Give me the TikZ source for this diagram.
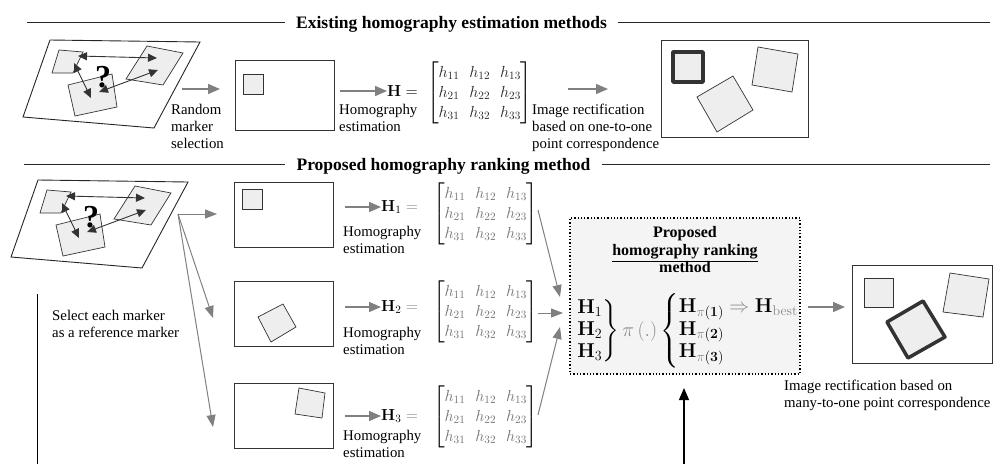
\RequirePackage{fix-cm}
\documentclass[tikz,border=0pt]{standalone}
\usepackage[no-math]{fontspec}
\setmainfont{Liberation Serif}
\usepackage{amsmath}
\usetikzlibrary{arrows.meta}
\definecolor{garr}{HTML}{808080}
\definecolor{dk}{HTML}{333333}
\definecolor{qfill}{HTML}{EEEEEE}
\definecolor{boxfill}{HTML}{F4F4F4}
\definecolor{mgray}{HTML}{8A8A8A}
\newcommand\Hmat[1]{\begin{bmatrix}\textcolor{#1}{h_{11}}&\textcolor{#1}{h_{12}}&\textcolor{#1}{h_{13}}\\ \textcolor{#1}{h_{21}}&\textcolor{#1}{h_{22}}&\textcolor{#1}{h_{23}}\\ \textcolor{#1}{h_{31}}&\textcolor{#1}{h_{32}}&\textcolor{#1}{h_{33}}\end{bmatrix}}
\tikzset{
  garrow/.style={draw=garr, line width=1.5pt, -{Triangle[length=12pt,width=10pt]}},
  garrowthin/.style={draw=garr, line width=1pt, -{Triangle[length=12pt,width=9pt]}},
  barrow/.style={draw=black, line width=1.2pt, -{Triangle[length=12pt,width=10pt]}},
  darrow/.style={draw=dk, line width=0.9pt, {Triangle[length=9pt,width=8pt]}-{Triangle[length=9pt,width=8pt]}},
  quad/.style={draw=dk, fill=qfill, line width=0.7pt},
  thickquad/.style={draw=dk, fill=qfill, line width=3.5pt, line join=round},
  plane/.style={draw=black!85, line width=0.9pt},
  imgbox/.style={draw=dk, line width=1pt},
  rule/.style={draw=black!85, line width=1pt},
  lbl/.style={font=\fontsize{14.8}{17}\selectfont, align=left, inner sep=0pt, anchor=north west},
  ttl/.style={font=\fontsize{17.5}{21}\selectfont\bfseries, inner ysep=0pt, inner xsep=11pt, anchor=base},
  mth/.style={font=\fontsize{16}{20}\selectfont, inner sep=0pt, anchor=west},
  qmark/.style={font=\fontsize{32}{32}\selectfont\bfseries, inner sep=0pt},
  rankbox/.style={draw=black, dotted, line width=1.3pt, fill=boxfill, minimum width=230pt, minimum height=156pt, inner sep=0pt},
  boxttl/.style={font=\fontsize{16}{19}\selectfont\bfseries, inner sep=0pt, anchor=base},
}
\newcommand\MarkerScene[1]{%
  \draw[plane] (50,40) -- (200,42) -- (154,128) -- (23,117) -- cycle;
  \draw[quad] (59,50) -- (83,52) -- (73,73) -- (52,73) -- cycle;
  \draw[quad] (147,46) -- (183,53) -- (163,85) -- (126,79) -- cycle;
  \draw[quad] (68,85) -- (112,74) -- (117,107) -- (75,116) -- cycle;
  \node[qmark] (#1q) at (103,77) {?};
  \coordinate (#1a1) at (78,56); \coordinate (#1a2) at (157,58);
  \coordinate (#1b1) at (74,63); \coordinate (#1b2) at (91,98);
  \coordinate (#1c1) at (99,92); \coordinate (#1c2) at (158,70);
  \draw[darrow] (#1a1) -- (#1a2);
  \draw[darrow] (#1b1) -- (#1b2);
  \draw[darrow] (#1c1) -- (#1c2);
}
\begin{document}
\begin{tikzpicture}[x=1pt,y=-1pt]
\useasboundingbox (0,0) rectangle (994,464);

% ---------- titles ----------
\node[ttl] (T1) at (451.5,28) {Existing homography estimation methods};
\coordinate (T1a) at (27,22); \coordinate (T1b) at (990,22);
\draw[rule] (T1a) -- (T1.west |- T1a);
\draw[rule] (T1.east |- T1b) -- (T1b);

\node[ttl] (T2) at (443.5,170) {Proposed homography ranking method};
\coordinate (T2a) at (24,164); \coordinate (T2b) at (990,164);
\draw[rule] (T2a) -- (T2.west |- T2a);
\draw[rule] (T2.east |- T2b) -- (T2b);

% ---------- top row ----------
\begin{scope}
  \MarkerScene{up}
\end{scope}
\coordinate (ua0) at (182,89); \coordinate (ua1) at (220,89);
\draw[garrow] (ua0) -- (ua1);
\node[lbl] (rms) at (171,104) {Random\\marker\\selection};

\node[imgbox, minimum width=99pt, minimum height=70pt, inner sep=0pt] (img0) at (284.5,95) {};
\draw[quad] (243,74) rectangle (263,94);

\coordinate (ub0) at (340,91);
\node[mth] (H0) at (387,91) {$\mathbf{H}=$};
\draw[garrow] (ub0) -- (H0.west);
\node[mth] (M0) at (427,93) {$\Hmat{black!85}$};
\node[lbl] (he0) at (339,104) {Homography\\estimation};

\coordinate (uc0) at (568,89); \coordinate (uc1) at (608,89);
\draw[garrow] (uc0) -- (uc1);
\node[lbl] (ir0) at (532,104) {Image rectification\\based on one-to-one\\point correspondence};

\node[imgbox, minimum width=147pt, minimum height=97pt, inner sep=0pt] (res0) at (734.5,88.5) {};
\draw[thickquad] (673,52) rectangle (703,82);
\draw[quad] (697,97) -- (733,76) -- (753,110) -- (717,132) -- cycle;
\draw[quad] (758,47) -- (798,54) -- (792,92) -- (752,85) -- cycle;

% ---------- bottom section ----------
\begin{scope}[shift={(-12,140)}]
  \MarkerScene{lo}
\end{scope}

\coordinate (split) at (178,214);
\coordinate (s1) at (217,214);
\coordinate (s2) at (213,318);
\coordinate (s3) at (213,427);
\draw[garrowthin] (split) -- (s1);
\draw[garrowthin] (split) -- (s2);
\draw[garrowthin] (split) -- (s3);

\coordinate (vl0) at (37,294); \coordinate (vl1) at (37,464);
\draw[draw=black, line width=1pt] (vl0) -- (vl1);
\node[lbl] (sel) at (52,310) {Select each marker\\as a reference marker};

% row images
\node[imgbox, minimum width=99pt, minimum height=65pt, inner sep=0pt] (r1) at (283.5,214.5) {};
\draw[quad] (242,189) rectangle (262,209);
\node[imgbox, minimum width=99pt, minimum height=65pt, inner sep=0pt] (r2) at (283.5,313.5) {};
\draw[quad] (258,317) -- (283,304) -- (296,327) -- (271,342) -- cycle;
\node[imgbox, minimum width=99pt, minimum height=65pt, inner sep=0pt] (r3) at (283.5,415.5) {};
\draw[quad] (299,388) -- (325,393) -- (322,418) -- (295,414) -- cycle;

% row equations
\coordinate (e10) at (345,207);
\node[mth] (H1) at (381,207) {$\mathbf{H}_1\mathrel{\textcolor{mgray}{=}}$};
\draw[garrow] (e10) -- (H1.west);
\node[mth] (M1) at (433,214) {$\Hmat{black!55}$};
\node[lbl] (he1) at (343,226) {Homography\\estimation};

\coordinate (e20) at (345,307);
\node[mth] (H2) at (381,307) {$\mathbf{H}_2\mathrel{\textcolor{mgray}{=}}$};
\draw[garrow] (e20) -- (H2.west);
\node[mth] (M2) at (433,312) {$\Hmat{black!55}$};
\node[lbl] (he2) at (343,327) {Homography\\estimation};

\coordinate (e30) at (345,416);
\node[mth] (H3) at (381,416) {$\mathbf{H}_3\mathrel{\textcolor{mgray}{=}}$};
\draw[garrow] (e30) -- (H3.west);
\node[mth] (M3) at (433,417) {$\Hmat{black!55}$};
\node[lbl] (he3) at (343,430) {Homography\\estimation};

% ranking box
\node[rankbox] (rank) at (685,296) {};
\node[boxttl] (p1) at (685,237) {Proposed};
\node[boxttl] (p2) at (685,255) {\underline{homography ranking}};
\node[boxttl] (p3) at (685,272) {method};
\node[inner sep=0pt, anchor=west, font=\fontsize{20}{22}\selectfont] (rk) at (576,331)
 {$\left.\begin{array}{@{}l@{}}\mathbf{H}_1\\ \mathbf{H}_2\\ \mathbf{H}_3\end{array}\right\}
  \textcolor{mgray}{\pi\left(.\right)}
  \left\{\begin{array}{@{}l@{}}\mathbf{H}_{\textcolor{mgray}{\pi}(\mathbf{1})}\mathrel{\textcolor{mgray}{\Rightarrow}}\mathbf{H}_{\textcolor{mgray}{\mathrm{best}}}\\
  \mathbf{H}_{\textcolor{mgray}{\pi}(\mathbf{2})}\\ \mathbf{H}_{\textcolor{mgray}{\pi}(\mathbf{3})}\end{array}\right.$};

% converging arrows
\coordinate (c10) at (538,210); \coordinate (c11) at (560,297);
\coordinate (c20) at (538,313); \coordinate (c21) at (563,313);
\coordinate (c30) at (538,415); \coordinate (c31) at (560,327);
\draw[garrowthin] (c10) -- (c11);
\draw[garrowthin] (c20) -- (c21);
\draw[garrowthin] (c30) -- (c31);

% output
\node[imgbox, minimum width=140pt, minimum height=98pt, inner sep=0pt] (res1) at (922,314) {};
\draw[quad] (864,278) rectangle (893,307);
\draw[thickquad] (887,322) -- (923,301) -- (945,337) -- (908,358) -- cycle;
\draw[quad] (950,273) -- (989,279) -- (983,317) -- (943,312) -- cycle;
\coordinate (o0) at (808,307); \coordinate (o1) at (845,307);
\draw[garrow] (o0) -- (o1);
\node[lbl] (ir1) at (784,380) {Image rectification based on\\many-to-one point correspondence};

% black arrow
\coordinate (ba0) at (684,464); \coordinate (ba1) at (684,388);
\draw[barrow] (ba0) -- (ba1);
\end{tikzpicture}
\end{document}
